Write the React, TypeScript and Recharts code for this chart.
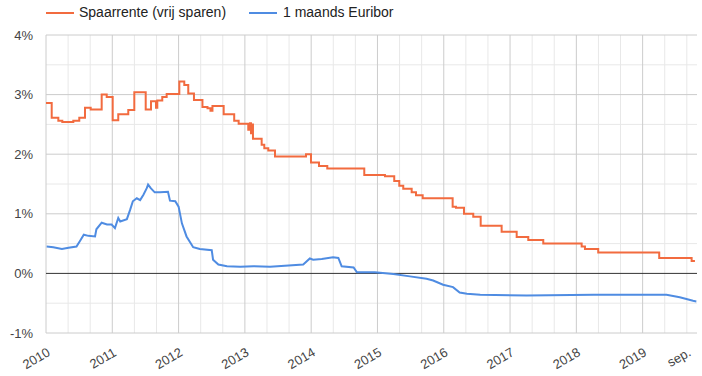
import { LineChart, Line, XAxis, YAxis, ReferenceLine } from "recharts";

// Spaarrente (vrij sparen), trapsgewijs
const spaarYears = [
  2010.0, 2010.086, 2010.186, 2010.246, 2010.412, 2010.502, 2010.588, 2010.674, 2010.84, 2010.916,
  2011.006, 2011.09, 2011.241, 2011.332, 2011.504, 2011.584, 2011.659, 2011.679, 2011.754, 2011.82,
  2012.011, 2012.086, 2012.146, 2012.232, 2012.36, 2012.436, 2012.481, 2012.511, 2012.68, 2012.839,
  2012.906, 2013.051, 2013.077, 2013.092, 2013.107, 2013.122, 2013.253, 2013.293, 2013.353, 2013.454,
  2013.922, 2013.997, 2014.118, 2014.243, 2014.801, 2015.113, 2015.253, 2015.329, 2015.389, 2015.516,
  2015.581, 2015.682, 2016.134, 2016.184, 2016.305, 2016.445, 2016.557, 2016.873, 2017.1, 2017.275,
  2017.501, 2018.08, 2018.13, 2018.33, 2019.25, 2019.739, 2019.789,
];
const spaarRates = [
  2.86, 2.61, 2.56, 2.54, 2.56, 2.61, 2.78, 2.75, 3.0, 2.96,
  2.57, 2.67, 2.74, 3.04, 2.75, 2.89, 2.78, 2.9, 2.96, 3.01,
  3.22, 3.16, 3.02, 2.91, 2.79, 2.77, 2.73, 2.81, 2.67, 2.56,
  2.51, 2.41, 2.52, 2.35, 2.5, 2.26, 2.16, 2.1, 2.06, 1.96,
  2.0, 1.86, 1.8, 1.76, 1.65, 1.63, 1.55, 1.47, 1.42, 1.36,
  1.31, 1.26, 1.12, 1.1, 1.0, 0.95, 0.8, 0.7, 0.61, 0.56,
  0.5, 0.45, 0.41, 0.35, 0.26, 0.21, 0.21,
];

// 1 maands Euribor
const euriborYears = [
  2010.01, 2010.11, 2010.24, 2010.34, 2010.46, 2010.51, 2010.57, 2010.64, 2010.74, 2010.76,
  2010.84, 2010.92, 2010.99, 2011.04, 2011.09, 2011.12, 2011.22, 2011.27, 2011.31, 2011.37,
  2011.42, 2011.47, 2011.52, 2011.54, 2011.58, 2011.64, 2011.72, 2011.84, 2011.87, 2011.95,
  2012.0, 2012.05, 2012.12, 2012.22, 2012.32, 2012.5, 2012.52, 2012.6, 2012.73, 2012.93,
  2013.13, 2013.38, 2013.88, 2013.98, 2014.03, 2014.16, 2014.33, 2014.41, 2014.46, 2014.64,
  2014.69, 2014.96, 2015.24, 2015.49, 2015.74, 2015.84, 2015.99, 2016.14, 2016.24, 2016.35,
  2016.55, 2017.25, 2018.26, 2019.36, 2019.56, 2019.76, 2019.81,
];
const euriborRates = [
  0.45, 0.44, 0.41, 0.43, 0.45, 0.54, 0.65, 0.63, 0.62, 0.74,
  0.85, 0.82, 0.82, 0.76, 0.93, 0.87, 0.91, 1.07, 1.21, 1.26,
  1.23, 1.32, 1.43, 1.49, 1.43, 1.36, 1.36, 1.37, 1.22, 1.21,
  1.12, 0.84, 0.62, 0.44, 0.41, 0.39, 0.23, 0.15, 0.12, 0.11,
  0.12, 0.11, 0.15, 0.25, 0.23, 0.24, 0.27, 0.26, 0.12, 0.1,
  0.02, 0.02, -0.01, -0.05, -0.09, -0.12, -0.19, -0.23, -0.32, -0.34,
  -0.36, -0.37, -0.36, -0.36, -0.4, -0.46, -0.47,
];

const yearTicks = [2010, 2011, 2012, 2013, 2014, 2015, 2016, 2017, 2018, 2019];
const sepTick = 2019 + 8 / 12;
const xTicks = [...yearTicks, sepTick];
const yTicks = [-1, 0, 1, 2, 3, 4];
const yMinor = [-0.5, 0.5, 1.5, 2.5, 3.5];

const spaarData = spaarYears.map((t, i) => ({ t, v: spaarRates[i] }));
const euriborData = euriborYears.map((t, i) => ({ t, v: euriborRates[i] }));
const xMinor = yearTicks.flatMap(y => [y + 1 / 3, y + 2 / 3]);

const ORANGE = "#f26b3f";
const BLUE = "#4f8ce2";
const FONT = "Arial, 'Liberation Sans', sans-serif";

const XTick = ({ x, y, payload }: any) => {
  const label = payload.value === sepTick ? "sep." : String(payload.value);
  const px = x + 5;
  const py = y + 22;
  return (
    <text x={px} y={py} transform={`rotate(-30, ${px}, ${py})`} textAnchor="end" fill="#444" fontSize={13}>
      {label}
    </text>
  );
};

export default function App() {
  return (
    <div style={{ position: "absolute", left: 0, top: 0, width: 702, height: 376, fontFamily: FONT, background: "#fff" }}>
      <div style={{ position: "absolute", left: 46, top: 12, width: 28, height: 2, background: ORANGE }} />
      <div style={{ position: "absolute", left: 79, top: 4, fontSize: 14, lineHeight: "17px", color: "#222" }}>
        Spaarrente (vrij sparen)
      </div>
      <div style={{ position: "absolute", left: 249, top: 12, width: 28, height: 2, background: BLUE }} />
      <div style={{ position: "absolute", left: 283, top: 4, fontSize: 14, lineHeight: "17px", color: "#222" }}>
        1 maands Euribor
      </div>
      <LineChart width={702} height={376} margin={{ top: 35, right: 5, bottom: 0, left: 0 }}>
        <XAxis
          dataKey="t"
          type="number"
          domain={[2010, 2019.82]}
          ticks={xTicks}
          allowDataOverflow
          axisLine={false}
          tickLine={false}
          tickSize={0}
          tickMargin={0}
          height={43}
          interval={0}
          tick={<XTick />}
        />
        <YAxis
          type="number"
          domain={[-1, 4]}
          ticks={yTicks}
          width={46}
          axisLine={false}
          tickLine={false}
          tickSize={0}
          tickMargin={13}
          tickFormatter={(v: number) => `${v}%`}
          tick={{ fill: "#444", fontSize: 13 }}
        />
        {xMinor.map(v => (
          <ReferenceLine key={`xm${v}`} x={v} stroke="#e8e8e8" strokeWidth={1} />
        ))}
        {yMinor.map(v => (
          <ReferenceLine key={`ym${v}`} y={v} stroke="#e8e8e8" strokeWidth={1} />
        ))}
        {yearTicks.map(v => (
          <ReferenceLine key={`xM${v}`} x={v} stroke="#cccccc" strokeWidth={1} />
        ))}
        {yTicks.map(v => (
          <ReferenceLine key={`yM${v}`} y={v} stroke={v === 0 ? "#333333" : "#cccccc"} strokeWidth={1} />
        ))}
        <Line
          data={spaarData}
          dataKey="v"
          type="stepAfter"
          stroke={ORANGE}
          strokeWidth={2}
          dot={false}
          isAnimationActive={false}
        />
        <Line
          data={euriborData}
          dataKey="v"
          type="linear"
          stroke={BLUE}
          strokeWidth={2}
          dot={false}
          isAnimationActive={false}
        />
      </LineChart>
    </div>
  );
}
